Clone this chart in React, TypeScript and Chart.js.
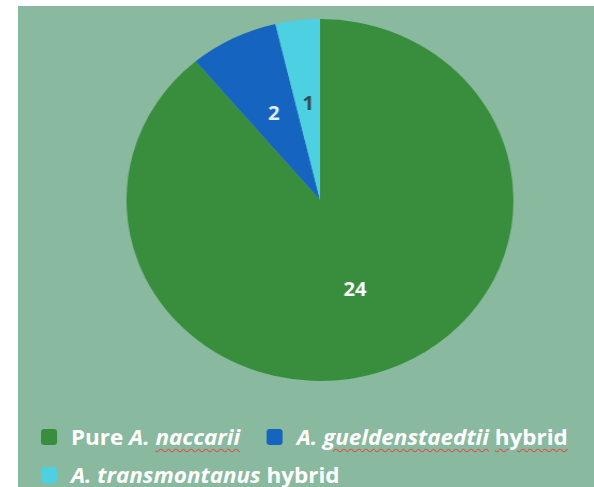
import React, { useEffect, useRef } from "react";
import { Chart, registerables } from "chart.js";

Chart.register(...registerables);

const categories = ["Pure A. naccarii", "A. gueldenstaedtii hybrid", "A. transmontanus hybrid"];
const values = [24, 2, 1];
const sliceColors = ["#388e3c", "#1565c0", "#4dd0e1"];
const valueLabelColors = ["#ffffff", "#e8f1fb", "#37474f"];
// legend text pieces: [text, italic, spell-check underline]
const legendParts: [string, boolean, boolean][][] = [
  [["Pure ", false, false], ["A. ", true, false], ["naccarii", true, true]],
  [["A. ", true, false], ["gueldenstaedtii", true, true], [" ", false, false], ["hybrid", false, true]],
  [["A. ", true, false], ["transmontanus", true, true], [" ", false, false], ["hybrid", false, true]],
];

const valueLabelPlugin = {
  id: "valueLabels",
  afterDatasetsDraw(chart: any) {
    const ctx = chart.ctx;
    const meta = chart.getDatasetMeta(0);
    ctx.save();
    ctx.font = 'bold 19px "Open Sans", sans-serif';
    ctx.textAlign = "center";
    ctx.textBaseline = "middle";
    meta.data.forEach((arc: any, i: number) => {
      const p = arc.getProps(["x", "y", "startAngle", "endAngle", "outerRadius"], true);
      const mid = (p.startAngle + p.endAngle) / 2;
      const r = p.outerRadius * 0.53;
      ctx.fillStyle = valueLabelColors[i];
      ctx.fillText(String(values[i]), p.x + Math.cos(mid) * r, p.y + Math.sin(mid) * r);
    });
    ctx.restore();
  },
};

export default function App() {
  const ref = useRef<HTMLCanvasElement>(null);
  useEffect(() => {
    if (!ref.current) return;
    const chart = new Chart(ref.current, {
      type: "pie",
      data: {
        labels: categories,
        datasets: [{ data: values, backgroundColor: sliceColors, borderWidth: 0 }],
      },
      options: {
        responsive: false,
        animation: false,
        layout: { padding: 0 },
        plugins: { legend: { display: false }, tooltip: { enabled: false } },
      },
      plugins: [valueLabelPlugin],
    });
    return () => chart.destroy();
  }, []);

  return (
    <div style={{ position: "absolute", left: 0, top: 0, width: 594, height: 487, background: "#ffffff", overflow: "hidden" }}>
      <div style={{ position: "absolute", left: 18, top: 6, width: 576, height: 481, background: "#89b99f" }} />
      <canvas
        ref={ref}
        width={362}
        height={362}
        style={{ position: "absolute", left: 139, top: 19, transform: "scaleX(1.069)", transformOrigin: "center" }}
      />
      <div
        style={{
          position: "absolute",
          left: 41,
          top: 418,
          width: 510,
          display: "flex",
          flexWrap: "wrap",
          columnGap: 25,
          fontFamily: '"Open Sans", sans-serif',
          fontWeight: 700,
          fontSize: 21,
          color: "#ffffff",
          lineHeight: "38px",
          transform: "scaleX(1.069)",
          transformOrigin: "left top",
        }}
      >
        {legendParts.map((parts, i) => (
          <div key={i} style={{ display: "flex", alignItems: "center", whiteSpace: "pre" }}>
            <span
              style={{
                display: "inline-block",
                width: 15,
                height: 16,
                borderRadius: 3,
                background: sliceColors[i],
                marginRight: 13,
              }}
            />
            <span>
              {parts.map(([t, it, u], j) => (
                <span
                  key={j}
                  style={{
                    fontStyle: it ? "italic" : "normal",
                    textDecoration: u ? "underline wavy #d9534f 1px" : "none",
                    textUnderlineOffset: 3,
                  }}
                >
                  {t}
                </span>
              ))}
            </span>
          </div>
        ))}
      </div>
    </div>
  );
}
